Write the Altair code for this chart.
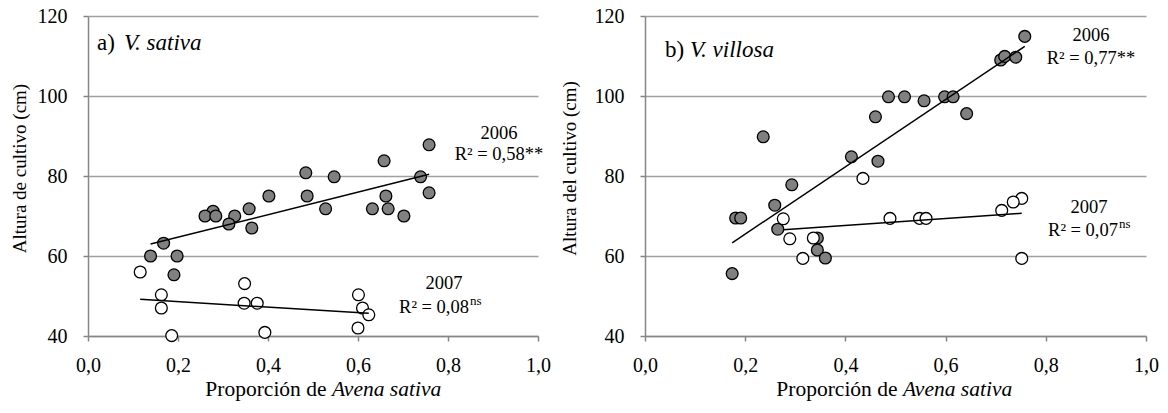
import altair as alt
import pandas as pd

FONT = "Liberation Serif"

# ---------------- data: panel a) V. sativa ----------------
sat06_x = [0.758, 0.658, 0.484, 0.547, 0.739, 0.758, 0.662, 0.487, 0.402, 0.358, 0.528, 0.632,
           0.667, 0.702, 0.278, 0.260, 0.284, 0.326, 0.313, 0.364, 0.168, 0.139, 0.198, 0.191]
sat06_y = [87.8, 83.8, 80.8, 79.8, 79.8, 75.8, 75.0, 75.0, 75.0, 71.8, 71.8, 71.8,
           71.8, 70.0, 71.2, 70.0, 70.0, 70.0, 68.0, 67.0, 63.2, 60.0, 60.0, 55.3]
sat07_x = [0.116, 0.163, 0.163, 0.186, 0.348, 0.347, 0.376, 0.393, 0.601, 0.610, 0.624, 0.600]
sat07_y = [56.0, 50.3, 47.0, 40.1, 53.1, 48.2, 48.2, 40.9, 50.3, 47.0, 45.3, 42.0]

# ---------------- data: panel b) V. villosa ----------------
vil06_x = [0.758, 0.710, 0.718, 0.740, 0.486, 0.518, 0.557, 0.598, 0.615, 0.642, 0.460, 0.236,
           0.412, 0.465, 0.293, 0.259, 0.181, 0.191, 0.265, 0.344, 0.344, 0.360, 0.174]
vil06_y = [114.9, 109.0, 109.9, 109.7, 99.8, 99.8, 98.8, 99.8, 99.8, 95.6, 94.8, 89.8,
           84.8, 83.7, 77.8, 72.7, 69.5, 69.5, 66.7, 64.5, 61.5, 59.5, 55.6]
vil07_x = [0.435, 0.752, 0.735, 0.712, 0.276, 0.489, 0.548, 0.561, 0.289, 0.336, 0.315, 0.752]
vil07_y = [79.4, 74.4, 73.5, 71.4, 69.3, 69.4, 69.4, 69.4, 64.3, 64.5, 59.4, 59.4]

years = ["2006", "2007"]
x_ticks = [0.0, 0.2, 0.4, 0.6, 0.8, 1.0]
y_ticks = [40, 60, 80, 100, 120]


def frame(x06, y06, x07, y07):
    return pd.DataFrame({
        "x": x06 + x07,
        "y": y06 + y07,
        "year": [years[0]] * len(x06) + [years[1]] * len(x07),
    })


def label(text, x, y, size, italic=False, align="center", baseline="middle"):
    return alt.Chart(pd.DataFrame({"t": [text]})).mark_text(
        font=FONT, fontSize=size, fontStyle="italic" if italic else "normal",
        align=align, baseline=baseline, color="black"
    ).encode(x=alt.value(x), y=alt.value(y), text="t:N")


def xtitle(center, y, size=21.5):
    # "Proporción de " regular + "Avena sativa" italic, centred as a whole
    split = center + 0.118 * size
    return [label("Proporción de", split, y, size, align="right"),
            label("Avena sativa", split + 0.25 * size, y, size, italic=True, align="left")]


def panel(df, width, ytitle, tpad, texts):
    xs = alt.Scale(domain=[0, 1], nice=False)
    ys = alt.Scale(domain=[40, 120], nice=False)
    xax = alt.Axis(values=x_ticks, labelExpr="replace(format(datum.value, '.1f'), '.', ',')",
                   grid=False, title=None, domainColor="#868686", domainWidth=1.5,
                   tickColor="#868686", tickSize=5, tickWidth=1.5, labelFont=FONT, labelFontSize=20,
                   labelColor="black", labelPadding=14, labelFlush=False)
    yax = alt.Axis(values=y_ticks, grid=True, gridColor="#a0a0a0", gridWidth=1.3,
                   domainColor="#868686", domainWidth=1.5, tickColor="#868686", tickSize=5,
                   tickWidth=1.5, labelFont=FONT, labelFontSize=20, labelColor="black",
                   labelPadding=16, labelFlush=False, title=ytitle, titleFont=FONT,
                   titleFontSize=19, titleFontWeight="normal", titleColor="black",
                   titlePadding=tpad, titleY=152)
    base = alt.Chart(df)
    pts = base.mark_point(shape="circle", filled=True, stroke="black", strokeWidth=1.3,
                          size=140, opacity=1).encode(
        x=alt.X("x:Q", scale=xs, axis=xax),
        y=alt.Y("y:Q", scale=ys, axis=yax),
        fill=alt.Fill("year:N", scale=alt.Scale(domain=years, range=["#808080", "#ffffff"]),
                      legend=None),
        order=alt.Order("year:N", sort="ascending"),
    )
    fit = base.transform_regression("x", "y", groupby=["year"]).mark_line(
        color="black", strokeWidth=1.5).encode(
        x=alt.X("x:Q", scale=xs), y=alt.Y("y:Q", scale=ys), detail="year:N")
    return alt.layer(pts, fit, *texts).properties(width=width, height=320)


# text placed in pixel offsets from each plot's top-left corner
left_texts = [
    label("a)", 9, 27, 23, align="left"),
    label("V. sativa", 36, 27, 23, italic=True, align="left"),
    label("2006", 411, 117, 18.5),
    label("R² = 0,58**", 411, 138, 18.5),
    label("2007", 356, 267, 18.5),
    label("R² = 0,08", 381, 291, 18.5, align="right"),
    label("ns", 382, 285, 13, align="left"),
] + xtitle(236, 374)
right_texts = [
    label("b)", 20, 34, 23, align="left"),
    label("V. villosa", 45, 34, 23, italic=True, align="left"),
    label("2006", 446, 19, 18.5),
    label("R² = 0,77**", 446, 42, 18.5),
    label("2007", 444, 191, 18.5),
    label("R² = 0,07", 473, 214, 18.5, align="right"),
    label("ns", 474, 208, 13, align="left"),
] + xtitle(250, 374)

left = panel(frame(sat06_x, sat06_y, sat07_x, sat07_y), 450, "Altura de cultivo (cm)", 8,
             left_texts)
right = panel(frame(vil06_x, vil06_y, vil07_x, vil07_y), 501, "Altura del cultivo (cm)", 15,
              right_texts)

chart = alt.hconcat(left, right, spacing=107, bounds="flush").properties(
    autosize=alt.AutoSizeParams(type="pad"),
    padding={"left": 10, "top": 6, "right": 5, "bottom": 5},
    background="white",
).configure_view(stroke=None)

chart.save("out.html", embed_options={"renderer": "svg", "actions": False})
